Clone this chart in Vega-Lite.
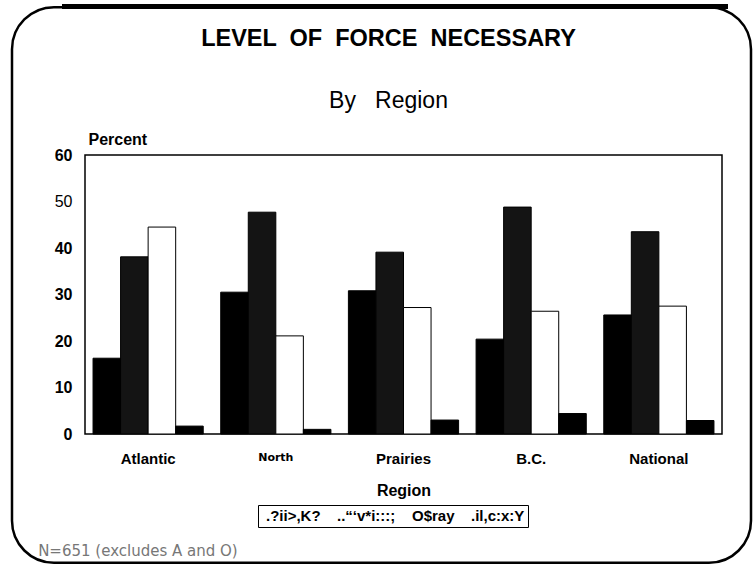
{
  "$schema": "https://vega.github.io/schema/vega-lite/v6.json",
  "width": 637,
  "height": 279,
  "autosize": "none",
  "padding": {"left": 85, "top": 155, "right": 31, "bottom": 131},
  "background": "white",
  "config": {
    "font": "Liberation Sans",
    "view": {"stroke": "black", "strokeWidth": 1.5}
  },
  "title": {
    "text": "LEVEL \u00a0OF \u00a0FORCE \u00a0NECESSARY",
    "subtitle": "By \u00a0 Region",
    "fontSize": 23.5,
    "fontWeight": "bold",
    "color": "black",
    "subtitleFontSize": 23,
    "subtitleColor": "black",
    "subtitlePadding": 39,
    "anchor": "middle",
    "frame": "group",
    "dx": -15,
    "offset": 0,
    "dy": 109
  },
  "data": {
    "values": [
      {"region": "Atlantic", "group": ".?ii>,K?", "percent": 16.3},
      {"region": "Atlantic", "group": "..“‘v*i:::;", "percent": 38.1},
      {"region": "Atlantic", "group": "O$ray", "percent": 44.5},
      {"region": "Atlantic", "group": ".il,c:x:Y", "percent": 1.7},
      {"region": "North", "group": ".?ii>,K?", "percent": 30.5},
      {"region": "North", "group": "..“‘v*i:::;", "percent": 47.7},
      {"region": "North", "group": "O$ray", "percent": 21.1},
      {"region": "North", "group": ".il,c:x:Y", "percent": 1.0},
      {"region": "Prairies", "group": ".?ii>,K?", "percent": 30.8},
      {"region": "Prairies", "group": "..“‘v*i:::;", "percent": 39.1},
      {"region": "Prairies", "group": "O$ray", "percent": 27.2},
      {"region": "Prairies", "group": ".il,c:x:Y", "percent": 3.0},
      {"region": "B.C.", "group": ".?ii>,K?", "percent": 20.4},
      {"region": "B.C.", "group": "..“‘v*i:::;", "percent": 48.8},
      {"region": "B.C.", "group": "O$ray", "percent": 26.4},
      {"region": "B.C.", "group": ".il,c:x:Y", "percent": 4.4},
      {"region": "National", "group": ".?ii>,K?", "percent": 25.6},
      {"region": "National", "group": "..“‘v*i:::;", "percent": 43.5},
      {"region": "National", "group": "O$ray", "percent": 27.5},
      {"region": "National", "group": ".il,c:x:Y", "percent": 2.9}
    ]
  },
  "layer": [
    {
      "data": {"values": [{"frame": "outer"}]},
      "mark": {"type": "rect", "filled": false, "stroke": "black", "strokeWidth": 2.5, "cornerRadius": 42, "xOffset": -73, "x2Offset": 29},
      "encoding": {
        "x": {"value": 0},
        "x2": {"value": "width"},
        "y": {"datum": 91.8},
        "y2": {"datum": -27.7}
      }
    },
    {
      "data": {"values": [{"frame": "topbar"}]},
      "mark": {"type": "rect", "fill": "black", "xOffset": -23, "x2Offset": 6},
      "encoding": {
        "x": {"value": 0},
        "x2": {"value": "width"},
        "y": {"datum": 92.5},
        "y2": {"datum": 91.4}
      }
    },
    {
      "mark": {"type": "bar", "stroke": "black", "strokeWidth": 1},
      "encoding": {
        "x": {
          "field": "region",
          "type": "nominal",
          "sort": ["Atlantic", "North", "Prairies", "B.C.", "National"],
          "scale": {"paddingInner": 0.137, "paddingOuter": 0.063},
          "title": "Region",
          "axis": {
            "labelAngle": 0,
            "labelFontSize": {"condition": {"test": "datum.value == 'North'", "value": 11}, "value": 15},
            "labelFont": {"condition": {"test": "datum.value == 'North'", "value": "DejaVu Sans"}, "value": "Liberation Sans"},
            "labelFontWeight": "bold",
            "labelColor": "black",
            "labelPadding": 17,
            "ticks": false,
            "domain": false,
            "titleFontSize": 16,
            "titleFontWeight": "bold",
            "titleColor": "black",
            "titlePadding": 16
          }
        },
        "xOffset": {"field": "group", "type": "nominal", "sort": [".?ii>,K?", "..“‘v*i:::;", "O$ray", ".il,c:x:Y"]},
        "y": {
          "field": "percent",
          "type": "quantitative",
          "scale": {"domain": [0, 60], "nice": false},
          "axis": {
            "title": "Percent",
            "titleAngle": 0,
            "titleAlign": "left",
            "titleBaseline": "bottom",
            "titleX": 3,
            "titleY": -8,
            "titleFontSize": 16,
            "titleFontWeight": "bold",
            "titleColor": "black",
            "labelFontSize": 16,
            "labelFontWeight": {"condition": {"test": "datum.value == 50", "value": "normal"}, "value": "bold"},
            "labelColor": "black",
            "labelPadding": 13,
            "ticks": false,
            "domain": false,
            "grid": false,
            "values": [0, 10, 20, 30, 40, 50, 60]
          }
        },
        "fill": {
          "field": "group",
          "type": "nominal",
          "sort": [".?ii>,K?", "..“‘v*i:::;", "O$ray", ".il,c:x:Y"],
          "scale": {
            "domain": [".?ii>,K?", "..“‘v*i:::;", "O$ray", ".il,c:x:Y"],
            "range": ["#000000", "#141414", "#ffffff", "#000000"]
          },
          "legend": {
            "orient": "none",
            "legendX": 173,
            "legendY": 350,
            "direction": "horizontal",
            "title": null,
            "symbolSize": 0,
            "symbolStrokeWidth": 0,
            "symbolOpacity": 0,
            "labelOffset": -10,
            "columnPadding": 11,
            "padding": 3,
            "strokeColor": "black",
            "labelFontSize": 15,
            "labelFontWeight": "bold",
            "labelColor": "black",
            "encode": {
              "legend": {"update": {"strokeWidth": {"value": 2}}},
              "labels": {"update": {
                "fontSize": {"signal": "datum.value == '.?ii>,K?' ? 12 : 15"},
                "fontWeight": {"signal": "datum.value == '.?ii>,K?' ? 'normal' : 'bold'"}
              }}
            }
          }
        }
      }
    },
    {
      "data": {"values": [{"note": "N=651 (excludes A and O)"}]},
      "mark": {"type": "text", "align": "left", "baseline": "middle", "dx": -110, "fontSize": 15, "font": "DejaVu Sans", "color": "#777777"},
      "encoding": {
        "x": {"datum": "Atlantic"},
        "y": {"datum": -25.2},
        "text": {"field": "note"}
      }
    }
  ]
}
